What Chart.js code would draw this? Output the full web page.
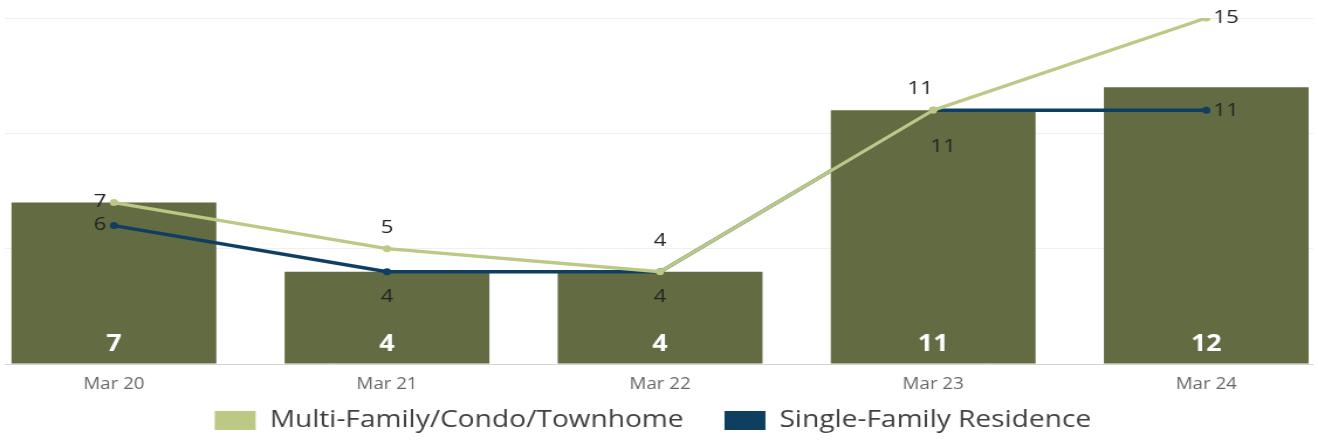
<!DOCTYPE html>
<html><head><meta charset="utf-8">
<script src="https://cdn.jsdelivr.net/npm/chart.js@4/dist/chart.umd.min.js"></script>
<style>html,body{margin:0;padding:0;background:#fff;overflow:hidden;}#c{display:block;}</style>
</head><body><canvas id="c" width="1126" height="440" style="width:1318px;height:440px;"></canvas>
<script>
const categories = ["Mar 20", "Mar 21", "Mar 22", "Mar 23", "Mar 24"];
const totalListings = [7, 4, 4, 11, 12];
const multiFamily = [7, 5, 4, 11, 15];
const singleFamily = [6, 4, 4, 11, 11];
const seriesNames = ["Multi-Family/Condo/Townhome", "Single-Family Residence"];
const yTicks = [0, 5, 10, 15];

const toPts = arr => arr.map((v, i) => ({x: i, y: v}));

// label placement (style): offsets for middle points, [dx, dy]
const aboveOffsets = [null, [0, -21], [0, -31], [-11, -22], null];
const belowOffsets = [null, [0, 25], [0, 25], [8.5, 36], null];

const labelPlugin = {
  id: 'valueLabels',
  afterDatasetsDraw(chart) {
    const ctx = chart.ctx;
    ctx.save();
    chart.data.datasets.forEach((ds, di) => {
      const meta = chart.getDatasetMeta(di);
      meta.data.forEach((el, i) => {
        const v = ds.data[i].y;
        if (ds.type === 'bar') {
          ctx.font = 'bold 23px "Open Sans"';
          ctx.fillStyle = '#ffffff';
          ctx.textAlign = 'center';
          ctx.textBaseline = 'middle';
          ctx.fillText(String(v), el.x, chart.scales.y.getPixelForValue(0) - 20);
        } else {
          ctx.font = '19px "Open Sans"';
          ctx.fillStyle = '#252423';
          ctx.textBaseline = 'middle';
          const last = meta.data.length - 1;
          if (i === 0) {
            ctx.textAlign = 'right';
            ctx.fillText(String(v), el.x - 6.5, el.y - 1);
          } else if (i === last) {
            ctx.textAlign = 'left';
            ctx.fillText(String(v), el.x + 6, el.y);
          } else {
            const off = (di === 0 ? aboveOffsets : belowOffsets)[i];
            ctx.textAlign = 'center';
            ctx.fillText(String(v), el.x + off[0], el.y + off[1]);
          }
        }
      });
    });
    ctx.restore();
  }
};

new Chart(document.getElementById('c'), {
  type: 'bar',
  data: {
    datasets: [
      {
        type: 'line', label: seriesNames[0], data: toPts(multiFamily), order: 0,
        borderColor: '#BCC984', backgroundColor: '#BCC984', borderWidth: 3.3,
        pointRadius: 3.5, pointBackgroundColor: '#BCC984', pointBorderWidth: 0
      },
      {
        type: 'line', label: seriesNames[1], data: toPts(singleFamily), order: 1,
        borderColor: '#0E3F61', backgroundColor: '#0E3F61', borderWidth: 3.3,
        pointRadius: 3.5, pointBackgroundColor: '#0E3F61', pointBorderWidth: 0
      },
      {
        type: 'bar', label: 'Total', data: toPts(totalListings), order: 2,
        backgroundColor: '#636B43', barPercentage: 0.75, categoryPercentage: 1
      }
    ]
  },
  options: {
    responsive: false, animation: false, devicePixelRatio: 1,
    layout: {padding: {top: 18, left: 4, right: 2, bottom: -2.5}},
    scales: {
      x: {
        type: 'linear', min: -0.4, max: 4.392, offset: false,
        afterBuildTicks: s => { s.ticks = categories.map((_, i) => ({value: i})); },
        afterFit: s => { s.height = 34.5; },
        grid: {display: false, drawTicks: false}, border: {display: false},
        ticks: {
          callback: v => categories[v], color: '#666666', padding: 11,
          font: {family: 'Open Sans', size: 16}, maxRotation: 0, autoSkip: false
        }
      },
      y: {
        min: 0, max: 15,
        afterBuildTicks: s => { s.ticks = yTicks.map(v => ({value: v})); },
        afterFit: s => { s.width = 0; },
        ticks: {display: false}, border: {display: false},
        grid: {drawTicks: false, color: ctx => ctx.tick && ctx.tick.value === 0 ? '#d4d4d4' : '#f0f0f0'}
      }
    },
    plugins: {
      tooltip: {enabled: false},
      legend: {
        position: 'bottom',
        labels: {
          filter: it => it.datasetIndex !== 2,
          boxWidth: 35, boxHeight: 19, padding: 10, color: '#404040',
          font: {family: 'Open Sans', size: 24},
          generateLabels: chart => {
            const items = Chart.defaults.plugins.legend.labels.generateLabels(chart);
            const pad = ['\u0020\u0020\u0020\u0020', '\u0020\u0020'];
            items.forEach((it, k) => { if (pad[k]) it.text = it.text + pad[k]; it.lineWidth = 0; });
            return items;
          }
        }
      }
    }
  },
  plugins: [labelPlugin]
});
</script></body></html>
